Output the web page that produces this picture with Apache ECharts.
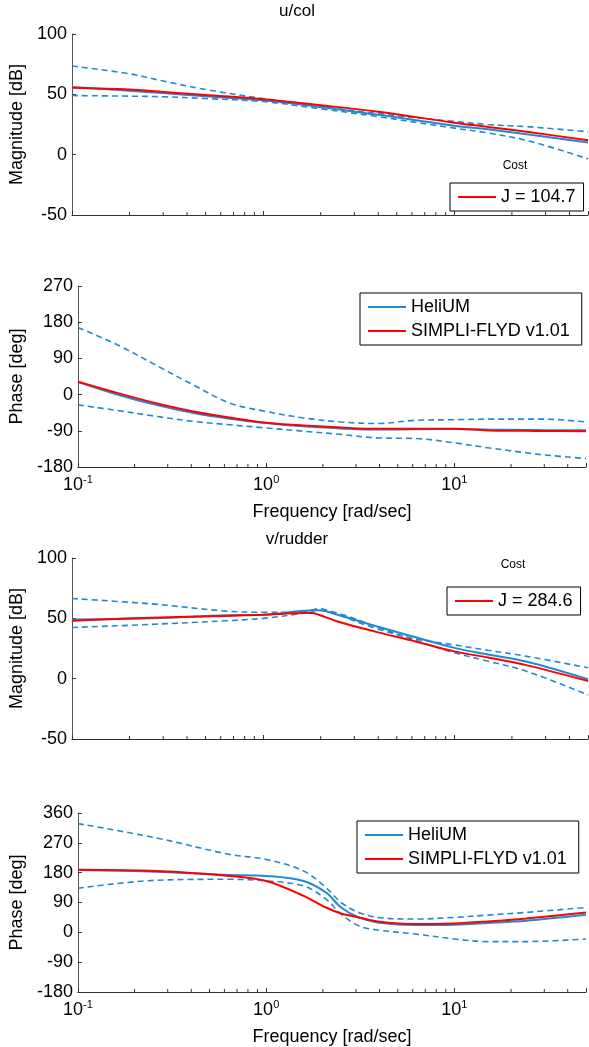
<!DOCTYPE html>
<html>
<head>
<meta charset="utf-8">
<script src="https://cdn.jsdelivr.net/npm/echarts@6/dist/echarts.min.js"></script>
<style>
  html, body { margin: 0; padding: 0; background: #ffffff; }
  #chart { width: 589px; height: 1047px; }
</style>
</head>
<body>
<div id="chart"></div>
<script>
// ---- u/col : magnitude [dB] ----
const freqUcolMag = [0.1, 0.2, 0.3, 0.5, 1, 2, 4, 10, 15, 25, 50];
const ucolMagHeli = [56, 53, 51, 48.5, 45, 39.5, 33, 24, 21, 16.5, 10];
const ucolMagHeliUpper = [73.5, 67, 61, 54, 46.5, 40, 34, 27.5, 25, 23, 19];
const ucolMagHeliLower = [49, 48.5, 48, 46.5, 44, 38, 31.5, 22, 18, 11, -3.5];
const ucolMagSimpli = [55.5, 54, 52, 49.5, 46, 41, 35.5, 26.5, 23, 18.5, 12];

// ---- u/col : phase [deg] ----
const freqUcolPh = [0.1, 0.165, 0.26, 0.41, 0.64, 1, 1.58, 2.5, 3.9, 6.2, 10, 15, 24, 30, 50];
const ucolPhHeli = [32, -1, -25.6, -46, -60, -70.7, -79, -84, -87, -86, -85.5, -87, -88, -88.5, -88.8];
const ucolPhHeliUpper = [167, 122, 73, 24, -21, -42, -58, -68, -72, -64, -62.5, -61, -61, -61, -68];
const ucolPhHeliLower = [-25.6, -40, -54, -66.6, -75, -83, -91, -99, -107.7, -109, -120, -132, -144.6, -150, -159];
const ucolPhSimpli = [32, 3, -21.5, -42, -57, -70, -77, -82, -85, -85, -85, -89, -90, -90.5, -91];

// ---- v/rudder : magnitude [dB] ----
const freqVrudMag = [0.1, 0.26, 0.64, 1, 1.58, 1.8, 1.95, 2.5, 3.9, 6.2, 10, 15, 24, 50];
const vrudMagHeli = [49, 50, 52.5, 53, 56, 56.5, 56.6, 52.5, 43.4, 34.6, 25.5, 20, 14, -0.5];
const vrudMagHeliUpper = [66.4, 62, 56, 55, 55, 57, 58, 52.5, 41.5, 33, 28, 23.5, 18.5, 9];
const vrudMagHeliLower = [42.4, 45, 48, 50, 54, 56, 57, 54, 43, 32, 21.5, 14.5, 6, -13.5];
const vrudMagSimpli = [48, 50.5, 52, 53, 54.4, 54.5, 53, 47, 38.8, 31, 22.6, 17.5, 11, -2];

// ---- v/rudder : phase [deg] ----
const freqVrudPh = [0.1, 0.26, 0.64, 1, 1.58, 2.08, 2.5, 3.1, 3.9, 6.2, 10, 15, 24, 50];
const vrudPhHeli = [188, 183, 173, 170, 155, 120, 75, 45, 30, 22, 23, 28, 35, 53];
const vrudPhHeliUpper = [328, 285, 235, 220, 185, 135, 90, 60, 45, 40, 45, 52, 60, 75];
const vrudPhHeliLower = [133, 157, 160, 155, 140, 100, 55, 20, 7, -5, -20, -28, -28, -20];
const vrudPhSimpli = [189, 185, 170, 155, 110, 75, 57, 45, 33, 25, 27, 33, 42, 60];

// ---- costs and labels ----
const costUcol = 104.7;
const costVrud = 284.6;
const panelTitles = ['u/col', 'v/rudder'];
const magTicks = { min: -50, max: 100, interval: 50 };
const phUcolTicks = { min: -180, max: 270, interval: 90 };
const phVrudTicks = { min: -180, max: 360, interval: 90 };
const freqRange = { min: 0.1, max: 50 };
const minorFreqs = [0.2, 0.3, 0.4, 0.5, 0.6, 0.7, 0.8, 0.9, 2, 3, 4, 5, 6, 7, 8, 9, 20, 30, 40];

const FONT = '"Liberation Sans", Arial, Helvetica, sans-serif';
const BLUE = '#1f8ad2';
const RED = '#ff0000';
const AXIS = '#333333';

const grids = [
  { left: 70, top: 34, height: 181, right: 1 },
  { left: 70, top: 286, height: 181, right: 1 },
  { left: 70, top: 558, height: 181, right: 1 },
  { left: 70, top: 813, height: 181, right: 1 }
];

function pairs(f, v) { return f.map((x, i) => [x, v[i]]); }

function xAxisFor(gi, withLabels) {
  return {
    type: 'log', logBase: 10, gridIndex: gi,
    min: freqRange.min, max: freqRange.max,
    axisLine: { show: true, onZero: false, lineStyle: { color: AXIS, width: 1 } },
    axisTick: { show: true, inside: true, length: 4, lineStyle: { color: AXIS } },
    splitLine: { show: false },
    name: withLabels ? 'Frequency [rad/sec]' : '',
    nameLocation: 'middle', nameGap: 36,
    nameTextStyle: { fontFamily: FONT, fontSize: 18, color: '#000' },
    axisLabel: {
      show: withLabels, margin: 7, color: '#000',
      formatter: function (v) {
        const e = Math.round(Math.log10(v));
        if (Math.abs(v - Math.pow(10, e)) > 1e-9 * v) return '';
        return '{b|10}{s|' + e + '}';
      },
      rich: {
        b: { fontFamily: FONT, fontSize: 18, lineHeight: 20, verticalAlign: 'bottom', color: '#000' },
        s: { fontFamily: FONT, fontSize: 11, lineHeight: 12, verticalAlign: 'top', padding: [0, 0, 12, 0], color: '#000' }
      }
    }
  };
}

function yAxisFor(gi, ticks, name) {
  return {
    type: 'value', gridIndex: gi,
    min: ticks.min, max: ticks.max, interval: ticks.interval,
    axisLine: { show: true, onZero: false, lineStyle: { color: '#555555', width: 1 } },
    axisTick: { show: true, inside: true, length: 4, lineStyle: { color: AXIS } },
    splitLine: { show: false },
    axisLabel: { fontFamily: FONT, fontSize: 18, color: '#000', margin: 5 },
    name: name, nameLocation: 'middle', nameGap: 40,
    nameTextStyle: { fontFamily: FONT, fontSize: 18, color: '#000' }
  };
}

function solid(name, gi, f, v, color, z) {
  return {
    type: 'line', name: name, xAxisIndex: gi, yAxisIndex: gi,
    data: pairs(f, v), smooth: 0.35, symbol: 'none', z: z,
    lineStyle: { color: color, width: 2 }, itemStyle: { color: color }
  };
}

function dashed(name, gi, f, v) {
  return {
    type: 'line', name: name, xAxisIndex: gi, yAxisIndex: gi,
    data: pairs(f, v), smooth: 0.35, symbol: 'none', z: 2,
    lineStyle: { color: BLUE, width: 1.6, type: [6, 4] }, itemStyle: { color: BLUE }
  };
}

// minor decade ticks on the frequency axis (2..9 within each decade)
function minorTicks(gi, ymin) {
  return {
    type: 'custom', xAxisIndex: gi, yAxisIndex: gi, silent: true, z: 5,
    data: minorFreqs.map(f => [f, ymin]),
    renderItem: function (params, api) {
      const p = api.coord([api.value(0), api.value(1)]);
      return {
        type: 'line',
        shape: { x1: p[0], y1: p[1], x2: p[0], y2: p[1] - 3 },
        style: { stroke: AXIS, lineWidth: 1 }
      };
    }
  };
}

const legendBase = {
  orient: 'vertical', icon: 'rect', itemWidth: 38, itemHeight: 2, itemGap: 6,
  backgroundColor: '#ffffff', borderColor: '#000000', borderWidth: 1,
  textStyle: { fontFamily: FONT, fontSize: 18, color: '#000' },
  selectedMode: false
};

const option = {
  animation: false,
  backgroundColor: '#ffffff',
  textStyle: { fontFamily: FONT },
  title: [
    { text: panelTitles[0], left: 297, top: 3, textAlign: 'center', padding: 0,
      textStyle: { fontFamily: FONT, fontSize: 17, fontWeight: 'normal', color: '#000' } },
    { text: panelTitles[1], left: 297, top: 531, textAlign: 'center', padding: 0,
      textStyle: { fontFamily: FONT, fontSize: 17, fontWeight: 'normal', color: '#000' } },
    { text: 'Cost', left: 515, top: 160, textAlign: 'center', padding: 0,
      textStyle: { fontFamily: FONT, fontSize: 12, fontWeight: 'normal', color: '#000' } },
    { text: 'Cost', left: 513, top: 559, textAlign: 'center', padding: 0,
      textStyle: { fontFamily: FONT, fontSize: 12, fontWeight: 'normal', color: '#000' } }
  ],
  legend: [
    Object.assign({}, legendBase, { data: ['J = ' + costUcol.toFixed(1)], left: 450, top: 183, padding: [5, 8, 5, 8] }),
    Object.assign({}, legendBase, { data: ['HeliUM', 'SIMPLI-FLYD v1.01'], left: 360, top: 293, padding: [5, 12, 5, 8] }),
    Object.assign({}, legendBase, { data: ['J = ' + costVrud.toFixed(1)], left: 447, top: 587, padding: [5, 8, 5, 8] }),
    Object.assign({}, legendBase, { data: ['HeliUM', 'SIMPLI-FLYD v1.01'], left: 357, top: 821, padding: [5, 12, 5, 8] })
  ],
  grid: grids,
  xAxis: [xAxisFor(0, false), xAxisFor(1, true), xAxisFor(2, false), xAxisFor(3, true)],
  yAxis: [
    yAxisFor(0, magTicks, 'Magnitude [dB]'),
    yAxisFor(1, phUcolTicks, 'Phase [deg]'),
    yAxisFor(2, magTicks, 'Magnitude [dB]'),
    yAxisFor(3, phVrudTicks, 'Phase [deg]')
  ],
  series: [
    // u/col magnitude
    dashed('HeliUM upper', 0, freqUcolMag, ucolMagHeliUpper),
    dashed('HeliUM lower', 0, freqUcolMag, ucolMagHeliLower),
    solid('HeliUM', 0, freqUcolMag, ucolMagHeli, BLUE, 3),
    solid('J = ' + costUcol.toFixed(1), 0, freqUcolMag, ucolMagSimpli, RED, 4),
    minorTicks(0, magTicks.min),
    // u/col phase
    dashed('HeliUM upper', 1, freqUcolPh, ucolPhHeliUpper),
    dashed('HeliUM lower', 1, freqUcolPh, ucolPhHeliLower),
    solid('HeliUM', 1, freqUcolPh, ucolPhHeli, BLUE, 3),
    solid('SIMPLI-FLYD v1.01', 1, freqUcolPh, ucolPhSimpli, RED, 4),
    minorTicks(1, phUcolTicks.min),
    // v/rudder magnitude
    dashed('HeliUM upper', 2, freqVrudMag, vrudMagHeliUpper),
    dashed('HeliUM lower', 2, freqVrudMag, vrudMagHeliLower),
    solid('HeliUM', 2, freqVrudMag, vrudMagHeli, BLUE, 3),
    solid('J = ' + costVrud.toFixed(1), 2, freqVrudMag, vrudMagSimpli, RED, 4),
    minorTicks(2, magTicks.min),
    // v/rudder phase
    dashed('HeliUM upper', 3, freqVrudPh, vrudPhHeliUpper),
    dashed('HeliUM lower', 3, freqVrudPh, vrudPhHeliLower),
    solid('HeliUM', 3, freqVrudPh, vrudPhHeli, BLUE, 3),
    solid('SIMPLI-FLYD v1.01', 3, freqVrudPh, vrudPhSimpli, RED, 4),
    minorTicks(3, phVrudTicks.min)
  ]
};

const chart = echarts.init(document.getElementById('chart'), null, { renderer: 'canvas' });
chart.setOption(option);
</script>
</body>
</html>
